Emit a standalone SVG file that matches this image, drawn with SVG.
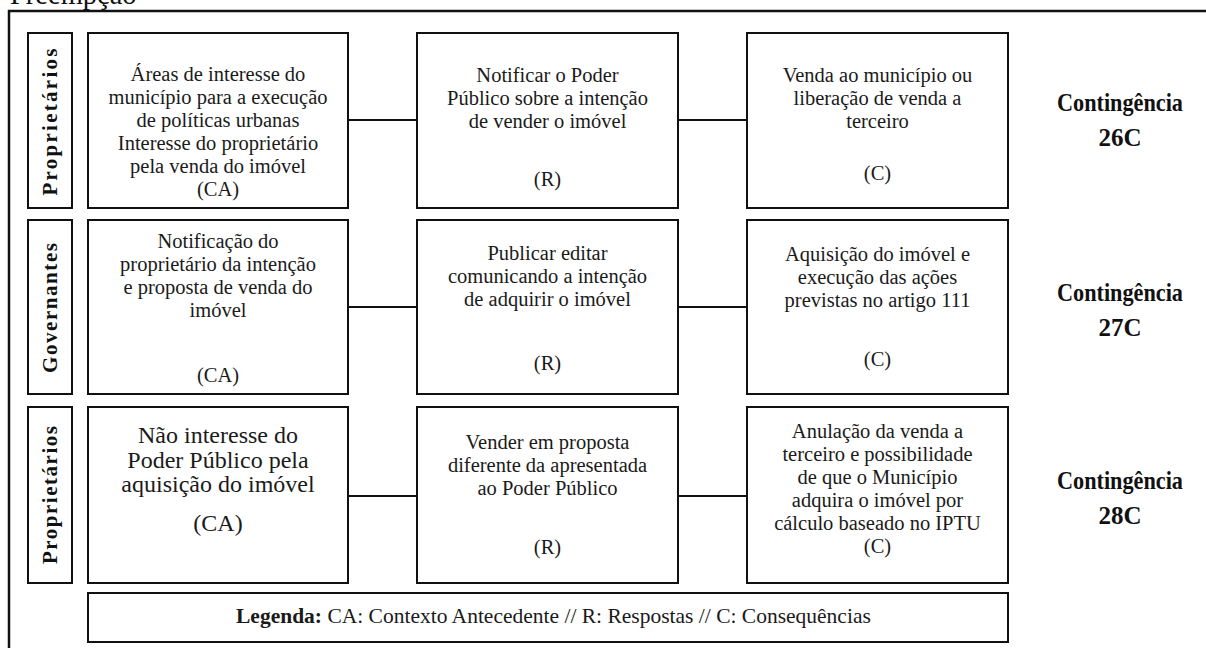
<svg xmlns="http://www.w3.org/2000/svg" width="1206" height="648" viewBox="0 0 1206 648">
<style>
.box{fill:#fff;stroke:#111;stroke-width:2}
.t{font-family:"Liberation Serif","Times New Roman",serif;font-size:20.5px;fill:#1a1a1a;text-anchor:middle}
.t3{font-size:24px}
.lab{font-family:"Liberation Serif","Times New Roman",serif;font-size:21px;font-weight:bold;fill:#111;text-anchor:middle}
.cont{font-family:"Liberation Serif","Times New Roman",serif;font-size:25px;font-weight:bold;fill:#111;text-anchor:middle}
.con{stroke:#111;stroke-width:2;fill:none}
</style>
<rect width="1206" height="648" fill="#fff"/>
<text x="10" y="4" font-family="Liberation Serif, serif" font-size="28.5" fill="#111">Preempção</text>
<path d="M9,650 V11 H1210" fill="none" stroke="#111" stroke-width="2.5"/>

<g id="connectors">
<line class="con" x1="348" y1="120" x2="417" y2="120"/>
<line class="con" x1="678" y1="120" x2="747" y2="120"/>
<line class="con" x1="348" y1="307" x2="417" y2="307"/>
<line class="con" x1="678" y1="307" x2="747" y2="307"/>
<line class="con" x1="348" y1="496" x2="417" y2="496"/>
<line class="con" x1="678" y1="496" x2="747" y2="496"/>
</g>

<g id="actor1">
<rect class="box" x="28" y="33" width="44" height="175"/>
<text class="lab" transform="translate(57,122) rotate(-90)" textLength="147" lengthAdjust="spacing">Proprietários</text>
</g>
<g id="ca1">
<rect class="box" x="88" y="33" width="260" height="175"/>
<text class="t" x="218" y="81">Áreas de interesse do</text>
<text class="t" x="218" y="104">município para a execução</text>
<text class="t" x="218" y="127">de políticas urbanas</text>
<text class="t" x="218" y="150">Interesse do proprietário</text>
<text class="t" x="218" y="173">pela venda do imóvel</text>
<text class="t" x="218" y="196">(CA)</text>
</g>
<g id="r1">
<rect class="box" x="417" y="33" width="261" height="175"/>
<text class="t" x="547.5" y="82">Notificar o Poder</text>
<text class="t" x="547.5" y="105">Público sobre a intenção</text>
<text class="t" x="547.5" y="128">de vender o imóvel</text>
<text class="t" x="547.5" y="186">(R)</text>
</g>
<g id="c1">
<rect class="box" x="747" y="33" width="261" height="175"/>
<text class="t" x="877.5" y="82">Venda ao município ou</text>
<text class="t" x="877.5" y="105">liberação de venda a</text>
<text class="t" x="877.5" y="128">terceiro</text>
<text class="t" x="877.5" y="180">(C)</text>
</g>
<g id="cont26">
<text class="cont" x="1120" y="111" textLength="126" lengthAdjust="spacingAndGlyphs">Contingência</text>
<text class="cont" x="1120" y="146">26C</text>
</g>

<g id="actor2">
<rect class="box" x="28" y="220" width="44" height="174"/>
<text class="lab" transform="translate(57,308) rotate(-90)" textLength="130" lengthAdjust="spacing">Governantes</text>
</g>
<g id="ca2">
<rect class="box" x="88" y="220" width="260" height="174"/>
<text class="t" x="218" y="248">Notificação do</text>
<text class="t" x="218" y="271">proprietário da intenção</text>
<text class="t" x="218" y="294">e proposta de venda do</text>
<text class="t" x="218" y="317">imóvel</text>
<text class="t" x="218" y="382">(CA)</text>
</g>
<g id="r2">
<rect class="box" x="417" y="220" width="261" height="174"/>
<text class="t" x="547.5" y="260">Publicar editar</text>
<text class="t" x="547.5" y="283">comunicando a intenção</text>
<text class="t" x="547.5" y="306">de adquirir o imóvel</text>
<text class="t" x="547.5" y="370">(R)</text>
</g>
<g id="c2">
<rect class="box" x="747" y="220" width="261" height="174"/>
<text class="t" x="877.5" y="261">Aquisição do imóvel e</text>
<text class="t" x="877.5" y="284">execução das ações</text>
<text class="t" x="877.5" y="307">previstas no artigo 111</text>
<text class="t" x="877.5" y="366">(C)</text>
</g>
<g id="cont27">
<text class="cont" x="1120" y="301" textLength="126" lengthAdjust="spacingAndGlyphs">Contingência</text>
<text class="cont" x="1120" y="336">27C</text>
</g>

<g id="actor3">
<rect class="box" x="28" y="407" width="44" height="176"/>
<text class="lab" transform="translate(57,495) rotate(-90)" textLength="138" lengthAdjust="spacing">Proprietários</text>
</g>
<g id="ca3">
<rect class="box" x="88" y="407" width="260" height="176"/>
<text class="t t3" x="218" y="443">Não interesse do</text>
<text class="t t3" x="218" y="467.5">Poder Público pela</text>
<text class="t t3" x="218" y="492">aquisição do imóvel</text>
<text class="t t3" x="218" y="531">(CA)</text>
</g>
<g id="r3">
<rect class="box" x="417" y="407" width="261" height="176"/>
<text class="t" x="547.5" y="449">Vender em proposta</text>
<text class="t" x="547.5" y="472">diferente da apresentada</text>
<text class="t" x="547.5" y="495">ao Poder Público</text>
<text class="t" x="547.5" y="554">(R)</text>
</g>
<g id="c3">
<rect class="box" x="747" y="407" width="261" height="176"/>
<text class="t" x="877.5" y="438">Anulação da venda a</text>
<text class="t" x="877.5" y="461">terceiro e possibilidade</text>
<text class="t" x="877.5" y="484">de que o Município</text>
<text class="t" x="877.5" y="507">adquira o imóvel por</text>
<text class="t" x="877.5" y="530">cálculo baseado no IPTU</text>
<text class="t" x="877.5" y="553">(C)</text>
</g>
<g id="cont28">
<text class="cont" x="1120" y="489" textLength="126" lengthAdjust="spacingAndGlyphs">Contingência</text>
<text class="cont" x="1120" y="524">28C</text>
</g>

<g id="legend">
<rect class="box" x="88" y="593" width="920" height="49"/>
<text x="236" y="623" font-family="Liberation Serif, serif" font-size="21.5" fill="#1a1a1a"><tspan font-weight="bold">Legenda:</tspan> CA: Contexto Antecedente  // R: Respostas // C: Consequências</text>
</g>
</svg>
